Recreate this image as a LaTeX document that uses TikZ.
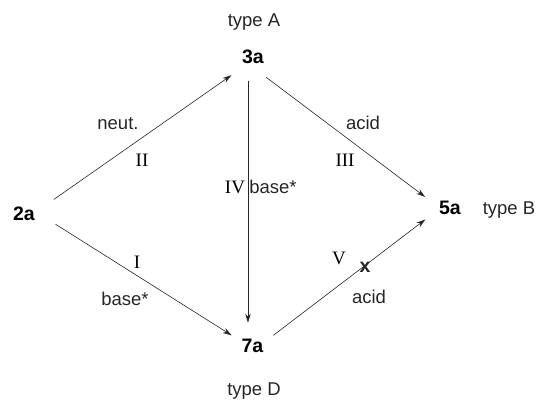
\documentclass[tikz,border=0pt]{standalone}
\usepackage{fontspec}
\setmainfont{Liberation Sans}
\newfontfamily\romfont{Liberation Serif}
\usetikzlibrary{arrows.meta}

\begin{document}
\begin{tikzpicture}[
    x=1pt,y=-1pt,
    font=\fontsize{18.5}{21}\selectfont,
    cmpd/.style={circle,inner sep=0pt,font=\fontsize{19.5}{22}\selectfont\bfseries},
    arr/.style={-{Stealth[length=9pt,width=5.5pt]},line width=0.6pt,draw=black!85},
    num/.style={inner sep=0pt,font=\fontsize{19}{22}\selectfont\romfont},
    lbl/.style={inner sep=0pt,text=black!85}
  ]
    \useasboundingbox (0,0) rectangle (539,401);

    \node[cmpd,minimum size=66pt] (2a) at (24,214) {2a};
    \node[cmpd,minimum size=48pt] (3a) at (253,57) {3a};
    \node[cmpd,minimum size=54pt] (5a) at (450,208) {5a};
    \node[cmpd,minimum size=46pt] (7a) at (252.5,345.5) {7a};

    \node[lbl] (typeA) at (254,22) {type A};
    \node[lbl] (typeB) at (509,210) {type B};
    \node[lbl] (typeD) at (254,391) {type D};

    \draw[arr,shorten >=4pt] (2a.26) -- (3a.221);
    \draw[arr] (2a.-18) -- (7a.154);
    \draw[arr] (3a.258) -- (3a.258 |- 7a.101);
    \draw[arr] (3a.-57) -- (5a.156);
    \draw[arr] (7a.26) -- (5a.205);

    \node[lbl] (neut) at (118,124) {neut.};
    \node[num] (II) at (142,160) {II};
    \node[num] (IV) at (235,187) {IV};
    \node[lbl] (baseIV) at (273,187) {base*};
    \node[lbl] (acidIII) at (363,123) {acid};
    \node[num] (III) at (345,160) {III};
    \node[num] (I) at (137,262) {I};
    \node[lbl] (baseI) at (125,299) {base*};
    \node[num] (V) at (339,258) {V};
    \node[lbl,font=\fontsize{19.5}{22}\selectfont\bfseries] (xV) at (365,267) {x};
    \node[lbl] (acidV) at (369,297) {acid};
\end{tikzpicture}
\end{document}
